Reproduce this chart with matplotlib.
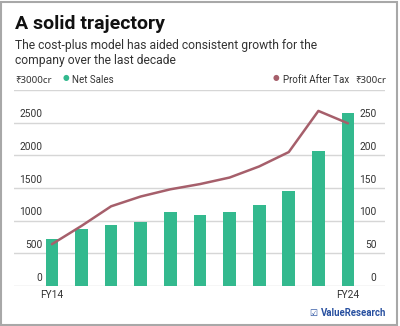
import matplotlib.pyplot as plt
import matplotlib.transforms as mtransforms
from matplotlib.patches import Rectangle

plt.rcParams['font.family'] = ['Roboto', 'DejaVu Sans']

# Net sales (Rs cr) and profit after tax (Rs cr), FY14 to FY24
years = ["FY14", "FY15", "FY16", "FY17", "FY18", "FY19",
         "FY20", "FY21", "FY22", "FY23", "FY24"]
net_sales = [715, 880, 930, 980, 1130, 1080, 1135, 1240, 1460, 2065, 2645]
profit_after_tax = [64, 92, 122, 137, 148, 156, 166, 183, 205, 268, 249]

sales_ticks = [0, 500, 1000, 1500, 2000, 2500]
profit_ticks = [0, 50, 100, 150, 200, 250]
shown_years = ["FY14", "FY24"]

green = "#33b98e"
mauve = "#a65f6b"
grid_c = "#d6d6d6"
text_c = "#333333"
brand = "#2850a0"

fig = plt.figure(figsize=(4.0, 3.26), dpi=100)
ax = fig.add_axes([0.035, 0.1227, 0.9275, 0.6012])
ax2 = ax.twinx()

x = list(range(len(years)))
ax.bar(x, net_sales, width=0.43, color=green, zorder=2)
ax2.plot(x, profit_after_tax, color=mauve, lw=1.8, solid_capstyle="round", zorder=3)

ax.set_xlim(-1.28, 11.25)
ax.set_ylim(0, 3000)
ax2.set_ylim(0, 300)

for a in (ax, ax2):
    for s in a.spines.values():
        s.set_visible(False)
    a.set_yticks([])
    a.tick_params(length=0)

# gridlines across the whole width, including the top 3000 line
for v in sales_ticks + [3000]:
    ax.axhline(v, color=grid_c, lw=1.0, zorder=1)

# tick labels sit just above each gridline
left_tf = mtransforms.blended_transform_factory(ax.transAxes, ax.transData)
for v in sales_ticks:
    ax.text(0.076, v + 50, str(v), transform=left_tf, ha="right", va="bottom",
            fontsize=7.3, color=text_c)
right_tf = mtransforms.blended_transform_factory(ax2.transAxes, ax2.transData)
for v in profit_ticks:
    ax2.text(0.977, v + 5, str(v), transform=right_tf, ha="right", va="bottom",
             fontsize=7.3, color=text_c)

ax.set_xticks([years.index(y) for y in shown_years])
ax.set_xticklabels(shown_years, fontsize=7.3, color=text_c)
ax.tick_params(axis="x", pad=3)

# headings
fig.text(0.0375, 0.91, "A solid trajectory", fontsize=14, fontweight="bold",
         color="#111111", va="baseline")
fig.text(0.0375, 0.849, "The cost-plus model has aided consistent growth for the",
         fontsize=8.7, color=text_c, va="baseline")
fig.text(0.0375, 0.803, "company over the last decade",
         fontsize=8.7, color=text_c, va="baseline")

# legend row / axis units
ly = 0.745
fig.text(0.0375, ly, "₹3000cr", fontsize=7.0, color=text_c, va="baseline",
         family=['Noto Sans', 'DejaVu Sans'])
fig.text(0.165, ly + 0.009, "●", fontsize=5.5, color=green, va="baseline", ha="center")
fig.text(0.18, ly, "Net Sales", fontsize=7.0, color=text_c, va="baseline")
fig.text(0.69, ly + 0.009, "●", fontsize=5.5, color=mauve, va="baseline", ha="center")
fig.text(0.707, ly, "Profit After Tax", fontsize=7.0, color=text_c, va="baseline")
fig.text(0.965, ly, "₹300cr", fontsize=7.0, color=text_c, va="baseline", ha="right",
         family=['Noto Sans', 'DejaVu Sans'])

# brand mark bottom right
fig.text(0.774, 0.03, "☑", fontsize=6.5, color=brand, va="baseline",
         family=['DejaVu Sans'])
fig.text(0.965, 0.03, "ValueResearch", fontsize=6.9, color=brand,
         fontweight="bold", ha="right", va="baseline")

fig.patches.append(Rectangle((0.002, 0.004), 0.99, 0.99, transform=fig.transFigure,
                             fill=False, edgecolor="#a8a8a8", lw=1.5))

fig.savefig("out.png", dpi=100)
